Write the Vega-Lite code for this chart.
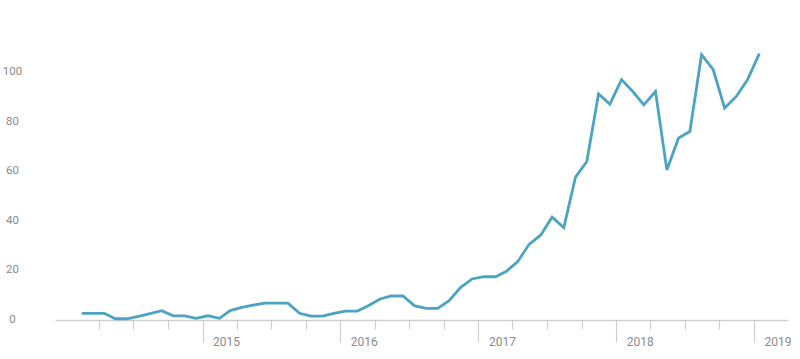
{
  "$schema": "https://vega.github.io/schema/vega-lite/v6.json",
  "autosize": {"type": "none"},
  "padding": {"left": 55, "top": 48, "right": 12, "bottom": 39},
  "width": 733,
  "height": 272,
  "background": "#ffffff",
  "config": {"view": {"stroke": null}},
  "data": {"values": [
    {"date": "2014-02-15", "v": 2.7}, {"date": "2014-03-15", "v": 2.7}, {"date": "2014-04-15", "v": 2.7},
    {"date": "2014-05-15", "v": 0.5}, {"date": "2014-06-15", "v": 0.5}, {"date": "2014-07-15", "v": 1.5},
    {"date": "2014-08-15", "v": 2.6}, {"date": "2014-09-15", "v": 3.8}, {"date": "2014-10-15", "v": 1.7},
    {"date": "2014-11-15", "v": 1.7}, {"date": "2014-12-15", "v": 0.7},
    {"date": "2015-01-15", "v": 1.7}, {"date": "2015-02-15", "v": 0.7}, {"date": "2015-03-15", "v": 3.8},
    {"date": "2015-04-15", "v": 5.1}, {"date": "2015-05-15", "v": 6.0}, {"date": "2015-06-15", "v": 6.8},
    {"date": "2015-07-15", "v": 6.8}, {"date": "2015-08-15", "v": 6.8}, {"date": "2015-09-15", "v": 2.7},
    {"date": "2015-10-15", "v": 1.6}, {"date": "2015-11-15", "v": 1.6}, {"date": "2015-12-15", "v": 2.7},
    {"date": "2016-01-15", "v": 3.6}, {"date": "2016-02-15", "v": 3.6}, {"date": "2016-03-15", "v": 5.8},
    {"date": "2016-04-15", "v": 8.5}, {"date": "2016-05-15", "v": 9.7}, {"date": "2016-06-15", "v": 9.7},
    {"date": "2016-07-15", "v": 5.8}, {"date": "2016-08-15", "v": 4.7}, {"date": "2016-09-15", "v": 4.7},
    {"date": "2016-10-15", "v": 7.8}, {"date": "2016-11-15", "v": 13.2}, {"date": "2016-12-15", "v": 16.6},
    {"date": "2017-01-15", "v": 17.5}, {"date": "2017-02-15", "v": 17.5}, {"date": "2017-03-15", "v": 19.6},
    {"date": "2017-04-15", "v": 23.6}, {"date": "2017-05-15", "v": 30.6}, {"date": "2017-06-15", "v": 34.4},
    {"date": "2017-07-15", "v": 41.6}, {"date": "2017-08-15", "v": 37.4}, {"date": "2017-09-15", "v": 57.8},
    {"date": "2017-10-15", "v": 64.1}, {"date": "2017-11-15", "v": 91.4}, {"date": "2017-12-15", "v": 87.3},
    {"date": "2018-01-15", "v": 97.2}, {"date": "2018-02-15", "v": 92.2}, {"date": "2018-03-15", "v": 87.0},
    {"date": "2018-04-15", "v": 92.4}, {"date": "2018-05-15", "v": 60.7}, {"date": "2018-06-15", "v": 73.6},
    {"date": "2018-07-15", "v": 76.2}, {"date": "2018-08-15", "v": 107.3}, {"date": "2018-09-15", "v": 101.2},
    {"date": "2018-10-15", "v": 85.7}, {"date": "2018-11-15", "v": 90.4}, {"date": "2018-12-15", "v": 97.2},
    {"date": "2019-01-15", "v": 107.7}
  ]},
  "mark": {"type": "line", "color": "#4ca3c2", "strokeWidth": 2.8, "strokeJoin": "miter", "clip": false},
  "encoding": {
    "x": {
      "field": "date", "type": "temporal",
      "scale": {"type": "utc", "domain": [
        {"year": 2013, "month": 12, "date": 6, "utc": true},
        {"year": 2019, "month": 4, "date": 1, "utc": true}
      ]},
      "axis": {
        "title": null,
        "grid": false,
        "values": [
          {"year": 2014, "month": 4, "date": 1, "utc": true}, {"year": 2014, "month": 7, "date": 1, "utc": true}, {"year": 2014, "month": 10, "date": 1, "utc": true},
          {"year": 2015, "month": 1, "date": 1, "utc": true}, {"year": 2015, "month": 4, "date": 1, "utc": true}, {"year": 2015, "month": 7, "date": 1, "utc": true}, {"year": 2015, "month": 10, "date": 1, "utc": true},
          {"year": 2016, "month": 1, "date": 1, "utc": true}, {"year": 2016, "month": 4, "date": 1, "utc": true}, {"year": 2016, "month": 7, "date": 1, "utc": true}, {"year": 2016, "month": 10, "date": 1, "utc": true},
          {"year": 2017, "month": 1, "date": 1, "utc": true}, {"year": 2017, "month": 4, "date": 1, "utc": true}, {"year": 2017, "month": 7, "date": 1, "utc": true}, {"year": 2017, "month": 10, "date": 1, "utc": true},
          {"year": 2018, "month": 1, "date": 1, "utc": true}, {"year": 2018, "month": 4, "date": 1, "utc": true}, {"year": 2018, "month": 7, "date": 1, "utc": true}, {"year": 2018, "month": 10, "date": 1, "utc": true},
          {"year": 2019, "month": 1, "date": 1, "utc": true}
        ],
        "labelExpr": "utcmonth(datum.value) === 0 ? utcFormat(datum.value, '%Y') : ''",
        "labelOverlap": false,
        "labelFlush": false,
        "labelBound": false,
        "labelAlign": "left",
        "labelBaseline": "middle",
        "labelOffset": 10,
        "labelPadding": -1,
        "labelFont": "Roboto",
        "labelFontSize": 12,
        "labelColor": "#8a8a8a",
        "domainColor": "#cfcfcf",
        "domainWidth": 1.5,
        "tickColor": "#cfcfcf",
        "tickWidth": 1.2,
        "tickSize": {"condition": {"test": "utcmonth(datum.value) === 0", "value": 22}, "value": 9}
      }
    },
    "y": {
      "field": "v", "type": "quantitative",
      "scale": {"domain": [0, 110], "nice": false, "zero": true},
      "axis": {
        "title": null,
        "grid": false,
        "domain": false,
        "ticks": false,
        "values": [0, 20, 40, 60, 80, 100],
        "labelAlign": "center",
        "labelBaseline": "middle",
        "labelPadding": 43,
        "labelOffset": -1,
        "labelFont": "Roboto",
        "labelFontSize": 11.5,
        "labelColor": "#8a8a8a"
      }
    }
  }
}
